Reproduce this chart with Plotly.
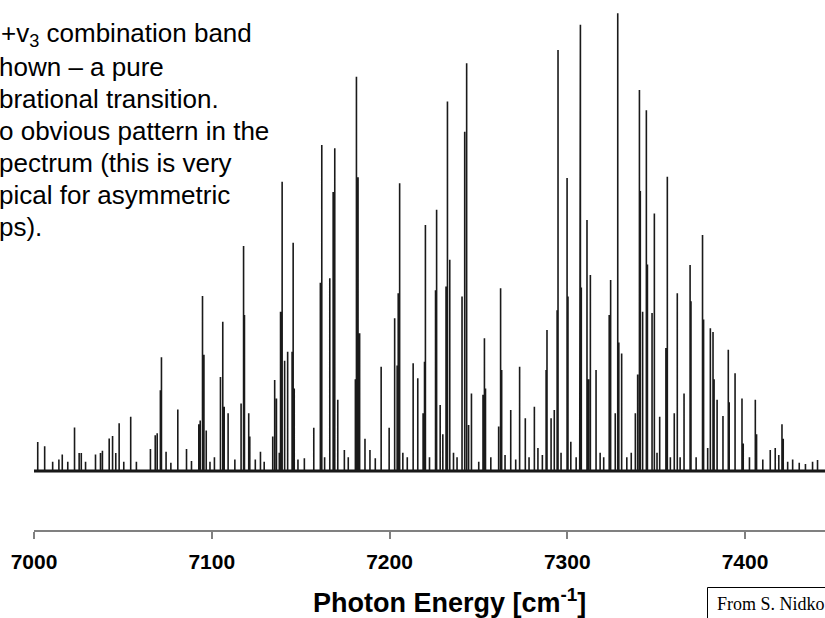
import plotly.graph_objects as go

# Line positions (cm^-1) and relative intensities
positions = [
    7002.1, 7006.0, 7010.5, 7014.0, 7015.9, 7019.0, 7022.8, 7025.4, 7026.6, 7029.0,
    7034.6, 7037.4, 7038.5, 7042.3, 7044.2, 7046.0, 7047.9, 7050.5, 7054.4, 7057.6,
    7065.5, 7068.2, 7069.3, 7071.1, 7071.7, 7074.3, 7077.0, 7080.9, 7085.8, 7088.6,
    7092.7, 7093.5, 7094.8, 7095.6, 7096.9, 7099.0, 7101.5, 7104.9, 7106.2, 7107.0,
    7109.2, 7113.0, 7116.5, 7117.9, 7118.4, 7120.8, 7121.4, 7124.5, 7127.4, 7129.5,
    7134.3, 7135.4, 7136.4, 7138.0, 7138.7, 7139.6, 7141.0, 7142.7, 7145.2, 7145.8,
    7146.4, 7148.5, 7152.1, 7157.4, 7161.1, 7161.9, 7163.5, 7166.4, 7168.3, 7169.2,
    7170.9, 7174.6, 7176.8, 7180.8, 7181.4, 7182.3, 7183.2, 7186.2, 7189.0, 7192.0,
    7195.3, 7199.8, 7202.9, 7204.3, 7204.9, 7205.7, 7207.5, 7210.0, 7213.3, 7215.9,
    7218.9, 7219.7, 7220.2, 7222.5, 7225.9, 7226.5, 7228.5, 7230.0, 7231.8, 7232.6,
    7233.9, 7236.0, 7238.0, 7240.8, 7242.3, 7243.4, 7244.5, 7246.1, 7250.2, 7252.6,
    7253.4, 7254.0, 7257.0, 7261.4, 7262.5, 7263.1, 7265.0, 7268.2, 7271.0, 7273.2,
    7276.4, 7278.5, 7281.5, 7283.5, 7286.0, 7288.1, 7288.6, 7290.9, 7292.7, 7294.3,
    7294.8, 7296.5, 7299.9, 7300.4, 7302.0, 7305.0, 7307.0, 7307.4, 7307.9, 7311.1,
    7312.0, 7313.0, 7316.2, 7318.5, 7320.5, 7323.6, 7324.4, 7327.0, 7328.4, 7329.0,
    7330.6, 7333.5, 7336.0, 7338.3, 7339.6, 7340.6, 7341.1, 7342.4, 7344.5, 7345.1,
    7347.7, 7349.0, 7350.5, 7352.0, 7355.5, 7356.3, 7358.0, 7360.2, 7361.9, 7363.5,
    7365.7, 7369.1, 7369.6, 7372.5, 7376.1, 7376.7, 7379.0, 7380.5, 7382.0, 7382.6,
    7384.3, 7387.6, 7390.6, 7391.1, 7394.4, 7398.3, 7399.0, 7402.5, 7405.8, 7406.5,
    7410.0, 7414.2, 7417.0, 7419.0, 7420.8, 7421.5, 7424.0, 7426.8, 7430.5, 7434.0,
    7438.0, 7440.8,
]
heights = [
    6.3, 5.4, 2.0, 2.5, 3.6, 2.0, 9.5, 3.9, 3.9, 2.0,
    3.6, 3.9, 4.4, 7.1, 7.6, 3.9, 10.4, 2.0, 11.8, 2.0,
    4.8, 7.8, 8.2, 17.6, 24.8, 4.2, 1.8, 13.4, 4.8, 2.2,
    10.2, 11.0, 38.1, 25.3, 8.8, 2.0, 3.0, 20.5, 32.5, 14.0,
    12.6, 2.5, 14.7, 49.0, 34.0, 12.6, 7.5, 2.5, 4.2, 2.0,
    7.5, 19.8, 15.8, 4.0, 34.7, 63.0, 24.0, 26.0, 26.0, 49.7,
    18.0, 2.5, 2.8, 9.4, 41.0, 71.0, 3.0, 42.0, 60.8, 70.3,
    15.5, 4.6, 3.0, 20.0, 85.9, 64.0, 30.0, 7.0, 4.6, 2.8,
    22.7, 9.4, 33.3, 23.0, 38.7, 62.7, 4.0, 3.0, 23.5, 20.2,
    12.6, 23.8, 53.6, 3.0, 39.4, 56.9, 14.4, 8.0, 40.2, 80.5,
    46.0, 4.0, 3.0, 38.0, 73.9, 88.8, 10.0, 16.9, 2.0, 16.6,
    28.9, 18.0, 3.0, 9.7, 39.8, 22.0, 3.5, 13.3, 2.5, 22.7,
    11.5, 3.0, 14.0, 5.0, 3.5, 22.0, 30.7, 11.5, 13.3, 35.0,
    91.7, 4.0, 63.8, 38.0, 6.4, 3.0, 9.7, 97.2, 40.0, 54.7,
    20.0, 42.7, 22.0, 4.0, 3.0, 34.0, 41.6, 12.6, 99.7, 28.0,
    25.6, 3.0, 4.0, 12.6, 21.0, 83.0, 61.0, 34.7, 78.6, 45.0,
    34.4, 56.1, 4.0, 11.8, 26.8, 64.1, 3.0, 12.6, 38.7, 3.0,
    16.9, 44.9, 37.0, 3.0, 51.4, 33.0, 5.0, 31.1, 30.3, 20.0,
    15.5, 12.0, 26.4, 15.0, 21.3, 15.8, 6.0, 3.0, 15.5, 8.0,
    2.5, 4.6, 5.0, 3.5, 10.2, 7.0, 2.0, 2.5, 1.8, 1.5,
    2.0, 2.4,
]

tick_values = [7000, 7100, 7200, 7300, 7400]
tick_labels = ["7000", "7100", "7200", "7300", "7400"]
x_range = [7000, 7445]
y_range = [-12.85, 102.6]

# Visible (left-cropped) slide text, one entry per line
text_lines = [
    "+v<sub>3</sub> combination band",
    "hown \u2013 a pure",
    "brational transition.",
    "o obvious pattern in the",
    "pectrum (this is very",
    "pical for asymmetric",
    "ps).",
]
axis_title = "<b>Photon Energy [cm<sup>-1</sup>]</b>"
credit_text = "From S. Nidko"

# Build stick spectrum path on a baseline
xs, ys = [x_range[0]], [0]
for p, h in sorted(zip(positions, heights)):
    xs += [p, p, p]
    ys += [0, h, 0]
xs.append(x_range[1])
ys.append(0)

W, H = 825, 618
L, R, T, B = 34, 0, 0, 88
PW, PH = W - L - R, H - T - B


def px(x):
    return (x - L) / PW


def py(y):
    return (H - B - y) / PH


fig = go.Figure()
fig.add_trace(go.Scatter(x=[x_range[0], x_range[1]], y=[0, 0], mode="lines",
                         line=dict(color="#111111", width=3), hoverinfo="skip",
                         showlegend=False))
fig.add_trace(go.Scatter(x=xs, y=ys, mode="lines",
                         line=dict(color="#1a1a1a", width=1.6),
                         showlegend=False))

fig.update_layout(
    width=W, height=H,
    margin=dict(l=L, r=R, t=T, b=B),
    paper_bgcolor="white", plot_bgcolor="white",
    font=dict(family="Liberation Sans, Arial, sans-serif", color="black"),
    xaxis=dict(range=x_range, tickvals=tick_values, ticktext=tick_labels,
               showgrid=False, zeroline=False, showline=True,
               linecolor="#808080", linewidth=1.5,
               ticks="outside", ticklen=7, tickwidth=1.5, tickcolor="#808080",
               ticklabelstandoff=5,
               tickfont=dict(size=21, weight="bold", color="black")),
    yaxis=dict(range=y_range, visible=False, showgrid=False, zeroline=False),
    showlegend=False,
)

line_y0, line_step = 35, 32
for i, line in enumerate(text_lines):
    fig.add_annotation(xref="paper", yref="paper",
                       x=px(1 if i == 0 else -1), y=py(line_y0 + i * line_step),
                       xanchor="left", yanchor="middle", align="left",
                       showarrow=False, borderpad=0, borderwidth=0,
                       text=line,
                       font=dict(size=26, color="black",
                                 family="Liberation Sans, Arial, sans-serif"))

fig.add_annotation(xref="paper", yref="paper", x=px(449), y=py(601),
                   xanchor="center", yanchor="middle", showarrow=False,
                   text=axis_title,
                   font=dict(size=27, color="black",
                             family="Liberation Sans, Arial, sans-serif"))
fig.add_shape(type="rect", xref="paper", yref="paper",
              x0=px(707.5), x1=px(840), y0=py(587.5), y1=py(640),
              line=dict(color="black", width=1), fillcolor="rgba(0,0,0,0)")
fig.add_annotation(xref="paper", yref="paper", x=px(715), y=py(604),
                   xanchor="left", yanchor="middle", showarrow=False,
                   text=credit_text,
                   font=dict(size=18, color="black",
                             family="Liberation Serif, Times New Roman, serif"))

fig.write_html("out.html",
               config={"displayModeBar": False},
               post_script="document.body.style.margin='0px';"
                           "document.body.style.overflow='hidden';")
